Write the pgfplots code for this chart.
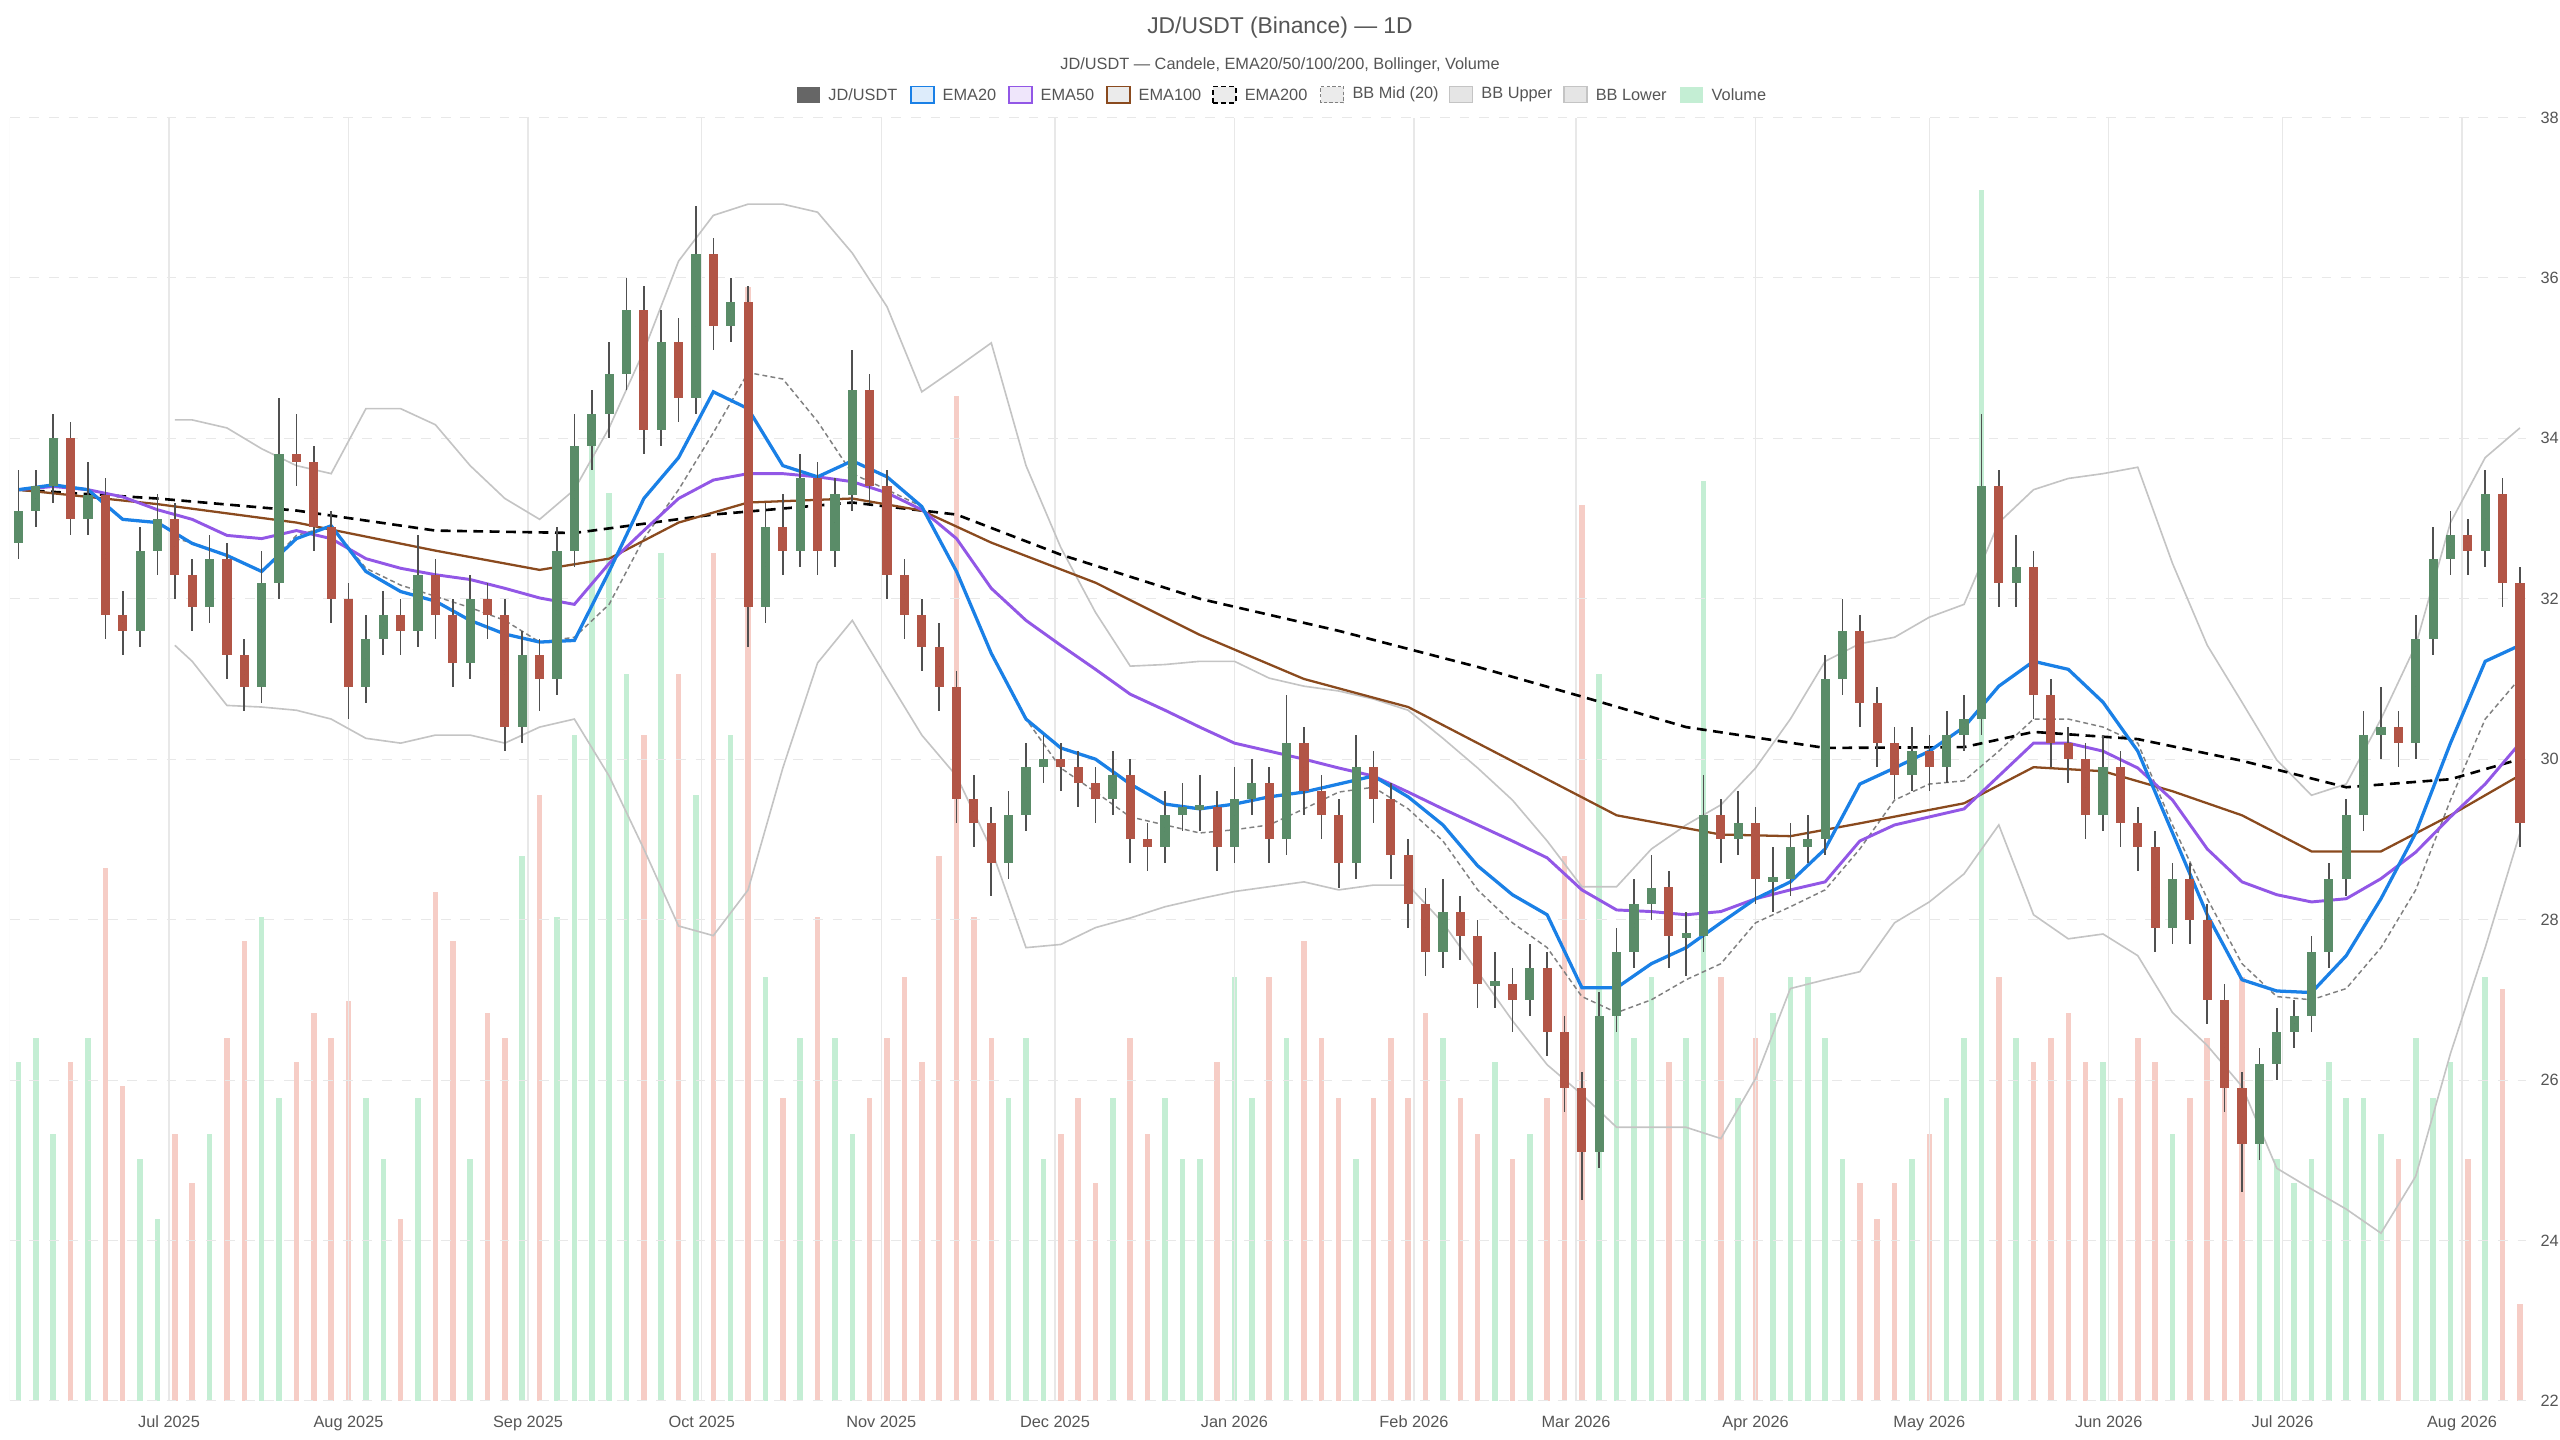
\documentclass[border=0pt]{standalone}
\usepackage{pgfplots}
\pgfplotsset{compat=1.18}
\usepackage{pgfplotstable}
\usepackage{fontspec}
\setmainfont{Liberation Sans}
\definecolor{upc}{HTML}{5A8C68}
\definecolor{dnc}{HTML}{B25546}
\definecolor{wick}{HTML}{505050}
\definecolor{vup}{HTML}{C4EED4}
\definecolor{vdn}{HTML}{F6CDC6}
\definecolor{e20}{HTML}{1A80E6}
\definecolor{e50}{HTML}{9257E6}
\definecolor{e100}{HTML}{8A4A1E}
\definecolor{bbc}{HTML}{C4C4C4}
\definecolor{txt}{HTML}{555555}
\definecolor{gridc}{HTML}{E8E8E8}

\pgfplotstableread{
d o h l c v
0 32.7 33.6 32.5 33.1 28
3 33.1 33.6 32.9 33.4 30
6 33.4 34.3 33.2 34.0 22
9 34.0 34.2 32.8 33.0 28
12 33.0 33.7 32.8 33.3 30
15 33.3 33.5 31.5 31.8 44
18 31.8 32.1 31.3 31.6 26
21 31.6 32.9 31.4 32.6 20
24 32.6 33.3 32.3 33.0 15
27 33.0 33.2 32.0 32.3 22
30 32.3 32.5 31.6 31.9 18
33 31.9 32.8 31.7 32.5 22
36 32.5 32.7 31.0 31.3 30
39 31.3 31.5 30.6 30.9 38
42 30.9 32.6 30.7 32.2 40
45 32.2 34.5 32.0 33.8 25
48 33.8 34.3 33.4 33.7 28
51 33.7 33.9 32.6 32.9 32
54 32.9 33.1 31.7 32.0 30
57 32.0 32.2 30.5 30.9 33
60 30.9 31.8 30.7 31.5 25
63 31.5 32.1 31.3 31.8 20
66 31.8 32.0 31.3 31.6 15
69 31.6 32.8 31.4 32.3 25
72 32.3 32.5 31.5 31.8 42
75 31.8 32.0 30.9 31.2 38
78 31.2 32.3 31.0 32.0 20
81 32.0 32.2 31.5 31.8 32
84 31.8 32.0 30.1 30.4 30
87 30.4 31.6 30.2 31.3 45
90 31.3 31.5 30.6 31.0 50
93 31.0 32.9 30.8 32.6 40
96 32.6 34.3 32.4 33.9 55
99 33.9 34.6 33.6 34.3 80
102 34.3 35.2 34.0 34.8 75
105 34.8 36.0 34.6 35.6 60
108 35.6 35.9 33.8 34.1 55
111 34.1 35.6 33.9 35.2 70
114 35.2 35.5 34.2 34.5 60
117 34.5 36.9 34.3 36.3 50
120 36.3 36.5 35.1 35.4 70
123 35.4 36.0 35.2 35.7 55
126 35.7 35.9 31.4 31.9 92
129 31.9 33.2 31.7 32.9 35
132 32.9 33.3 32.3 32.6 25
135 32.6 33.8 32.4 33.5 30
138 33.5 33.7 32.3 32.6 40
141 32.6 33.5 32.4 33.3 30
144 33.3 35.1 33.1 34.6 22
147 34.6 34.8 33.2 33.4 25
150 33.4 33.6 32.0 32.3 30
153 32.3 32.5 31.5 31.8 35
156 31.8 32.0 31.1 31.4 28
159 31.4 31.7 30.6 30.9 45
162 30.9 31.1 29.2 29.5 83
165 29.5 29.8 28.9 29.2 40
168 29.2 29.4 28.3 28.7 30
171 28.7 29.6 28.5 29.3 25
174 29.3 30.2 29.1 29.9 30
177 29.9 30.3 29.7 30.0 20
180 30.0 30.2 29.6 29.9 22
183 29.9 30.1 29.4 29.7 25
186 29.7 29.9 29.2 29.5 18
189 29.5 30.1 29.3 29.8 25
192 29.8 30.0 28.7 29.0 30
195 29.0 29.2 28.6 28.9 22
198 28.9 29.6 28.7 29.3 25
201 29.3 29.7 29.1 29.4 20
204 29.4 29.8 29.1 29.4 20
207 29.4 29.6 28.6 28.9 28
210 28.9 29.9 28.7 29.5 35
213 29.5 30.0 29.3 29.7 25
216 29.7 29.9 28.7 29.0 35
219 29.0 30.8 28.8 30.2 30
222 30.2 30.4 29.3 29.6 38
225 29.6 29.8 29.0 29.3 30
228 29.3 29.5 28.4 28.7 25
231 28.7 30.3 28.5 29.9 20
234 29.9 30.1 29.2 29.5 25
237 29.5 29.7 28.5 28.8 30
240 28.8 29.0 27.9 28.2 25
243 28.2 28.4 27.3 27.6 32
246 27.6 28.5 27.4 28.1 30
249 28.1 28.3 27.5 27.8 25
252 27.8 28.0 26.9 27.2 22
255 27.2 27.6 26.9 27.2 28
258 27.2 27.4 26.6 27.0 20
261 27.0 27.7 26.8 27.4 22
264 27.4 27.6 26.3 26.6 25
267 26.6 26.8 25.6 25.9 45
270 25.9 26.1 24.5 25.1 74
273 25.1 27.1 24.9 26.8 60
276 26.8 27.9 26.6 27.6 35
279 27.6 28.5 27.4 28.2 30
282 28.2 28.8 28.0 28.4 35
285 28.4 28.6 27.4 27.8 28
288 27.8 28.1 27.3 27.8 30
291 27.8 29.8 27.6 29.3 76
294 29.3 29.5 28.7 29.0 35
297 29.0 29.6 28.8 29.2 25
300 29.2 29.4 28.2 28.5 30
303 28.5 28.9 28.1 28.5 32
306 28.5 29.2 28.3 28.9 35
309 28.9 29.3 28.7 29.0 35
312 29.0 31.3 28.8 31.0 30
315 31.0 32.0 30.8 31.6 20
318 31.6 31.8 30.4 30.7 18
321 30.7 30.9 29.9 30.2 15
324 30.2 30.4 29.5 29.8 18
327 29.8 30.4 29.6 30.1 20
330 30.1 30.3 29.6 29.9 22
333 29.9 30.6 29.7 30.3 25
336 30.3 30.8 30.1 30.5 30
339 30.5 34.3 30.3 33.4 100
342 33.4 33.6 31.9 32.2 35
345 32.2 32.8 31.9 32.4 30
348 32.4 32.6 30.5 30.8 28
351 30.8 31.0 29.9 30.2 30
354 30.2 30.4 29.7 30.0 32
357 30.0 30.2 29.0 29.3 28
360 29.3 30.3 29.1 29.9 28
363 29.9 30.1 28.9 29.2 25
366 29.2 29.4 28.6 28.9 30
369 28.9 29.1 27.6 27.9 28
372 27.9 28.7 27.7 28.5 22
375 28.5 28.7 27.7 28.0 25
378 28.0 28.2 26.7 27.0 30
381 27.0 27.2 25.6 25.9 30
384 25.9 26.1 24.6 25.2 35
387 25.2 26.4 25.0 26.2 25
390 26.2 26.9 26.0 26.6 20
393 26.6 27.0 26.4 26.8 18
396 26.8 27.8 26.6 27.6 20
399 27.6 28.7 27.4 28.5 28
402 28.5 29.5 28.3 29.3 25
405 29.3 30.6 29.1 30.3 25
408 30.3 30.9 30.0 30.4 22
411 30.4 30.6 29.9 30.2 20
414 30.2 31.8 30.0 31.5 30
417 31.5 32.9 31.3 32.5 25
420 32.5 33.1 32.3 32.8 28
423 32.8 33.0 32.3 32.6 20
426 32.6 33.6 32.4 33.3 35
429 33.3 33.5 31.9 32.2 34
432 32.2 32.4 28.9 29.2 8
}\candles

\pgfplotstableread{
d p
0 33.36
24 33.25
48 33.10
72 32.85
96 32.82
120 33.05
144 33.20
162 33.05
180 32.55
204 32.00
228 31.60
252 31.15
270 30.78
288 30.40
312 30.14
336 30.15
348 30.34
366 30.25
384 29.98
402 29.65
420 29.75
432 30.00
}\emaTwoHundred

\pgfplotstableread{
d p
0 33.36
24 33.18
48 32.95
72 32.60
90 32.36
102 32.50
114 32.95
126 33.20
144 33.25
156 33.10
168 32.70
186 32.20
204 31.55
222 31.00
240 30.65
252 30.20
264 29.75
276 29.30
294 29.06
306 29.04
318 29.20
336 29.45
348 29.90
360 29.85
372 29.60
384 29.30
396 28.85
408 28.85
420 29.30
432 29.80
}\emaHundred

\pgfplotstableread{
d a b
0 33.36 33.36
6 33.40 33.42
12 33.36 33.36
18 33.27 32.99
24 33.11 32.95
30 32.99 32.69
36 32.79 32.54
42 32.75 32.34
48 32.85 32.75
54 32.75 32.91
60 32.50 32.34
66 32.38 32.09
72 32.30 31.97
78 32.24 31.73
84 32.13 31.56
90 32.01 31.46
96 31.93 31.48
102 32.44 32.34
108 32.85 33.25
114 33.25 33.76
120 33.48 34.58
126 33.56 34.37
132 33.56 33.66
138 33.52 33.52
144 33.46 33.72
150 33.32 33.52
156 33.11 33.15
162 32.75 32.34
168 32.13 31.32
174 31.73 30.50
180 31.42 30.14
186 31.12 30.00
192 30.81 29.69
198 30.61 29.44
204 30.40 29.38
210 30.20 29.44
216 30.10 29.53
222 30.00 29.59
228 29.89 29.69
234 29.79 29.79
240 29.59 29.53
246 29.38 29.18
252 29.18 28.67
258 28.98 28.31
264 28.77 28.06
270 28.37 27.15
276 28.12 27.15
282 28.10 27.45
288 28.06 27.65
294 28.10 27.96
300 28.26 28.26
306 28.37 28.47
312 28.47 28.88
318 28.98 29.69
324 29.18 29.89
330 29.28 30.10
336 29.38 30.40
342 29.79 30.91
348 30.20 31.22
354 30.20 31.12
360 30.10 30.71
366 29.89 30.10
372 29.49 29.08
378 28.88 28.06
384 28.47 27.25
390 28.31 27.11
396 28.22 27.09
402 28.26 27.55
408 28.51 28.26
414 28.84 29.08
420 29.28 30.20
426 29.69 31.22
432 30.20 31.42
}\emaFast

\pgfplotstableread{
d u l m
27 34.23 31.42 32.75
30 34.23 31.22 32.70
36 34.13 30.67 32.54
42 33.87 30.65 32.34
48 33.66 30.61 32.79
54 33.56 30.50 32.91
60 34.37 30.26 32.38
66 34.37 30.20 32.17
72 34.17 30.30 32.03
78 33.66 30.30 31.89
84 33.25 30.20 31.73
90 32.99 30.40 31.46
96 33.36 30.50 31.52
102 34.13 29.79 31.93
108 35.09 28.88 32.75
114 36.21 27.92 33.36
120 36.78 27.80 34.07
126 36.92 28.37 34.82
132 36.92 29.89 34.74
138 36.82 31.20 34.21
144 36.31 31.73 33.56
150 35.64 31.01 33.36
156 34.58 30.30 33.15
162 34.88 29.79 32.34
168 35.19 28.88 31.32
174 33.66 27.65 30.50
180 32.64 27.69 29.89
186 31.83 27.90 29.59
192 31.16 28.02 29.28
198 31.18 28.16 29.18
204 31.22 28.26 29.08
210 31.22 28.35 29.12
216 31.01 28.41 29.18
222 30.91 28.47 29.38
228 30.85 28.37 29.59
234 30.75 28.43 29.65
240 30.61 28.43 29.38
246 30.26 27.96 28.98
252 29.89 27.35 28.37
258 29.49 26.74 27.96
264 28.98 26.19 27.65
270 28.41 25.82 27.04
276 28.41 25.41 26.84
282 28.88 25.41 27.00
288 29.18 25.41 27.25
294 29.43 25.27 27.45
300 29.89 26.02 27.96
306 30.50 27.14 28.16
312 31.22 27.25 28.37
318 31.44 27.35 28.88
324 31.52 27.96 29.49
330 31.77 28.22 29.69
336 31.93 28.57 29.73
342 32.95 29.18 30.10
348 33.36 28.06 30.50
354 33.50 27.76 30.50
360 33.56 27.82 30.40
366 33.64 27.55 30.20
372 32.44 26.84 29.18
378 31.42 26.43 28.26
384 30.71 25.92 27.45
390 29.99 24.90 27.04
396 29.55 24.64 27.00
402 29.69 24.39 27.14
408 30.50 24.09 27.65
414 31.42 24.80 28.37
420 32.95 26.33 29.49
426 33.76 27.65 30.50
432 34.13 29.08 31.01
}\bb

\begin{document}
\begin{tikzpicture}[font=\fontsize{5}{6}\selectfont]
\useasboundingbox (0,0) rectangle (784pt,441pt);
\pgfplotsset{base/.style={at={(3pt,12pt)}, anchor=south west, scale only axis,
  width=770.5pt, height=393pt, xmin=-1.5, xmax=433},
  nomark/.style={only marks, mark=*, mark size=0pt, mark options={draw=none, fill=none}}}
% volume
\begin{axis}[base, ymin=0, ymax=106, hide axis, unbounded coords=discard, filter discard warning=false]
\addplot[ycomb, vup, line width=1.7pt, mark=none] table[x=d, y expr={\thisrow{c}>=\thisrow{o} ? \thisrow{v} : nan}] {\candles};
\addplot[ycomb, vdn, line width=1.7pt, mark=none] table[x=d, y expr={\thisrow{c}<\thisrow{o} ? \thisrow{v} : nan}] {\candles};
\end{axis}
% price
\begin{axis}[base, ymin=22, ymax=38, ytick={22,24,...,38}, yticklabel pos=right,
  xtick={26,57,88,118,149,179,210,241,269,300,330,361,391,422},
  xticklabels={Jul 2025,Aug 2025,Sep 2025,Oct 2025,Nov 2025,Dec 2025,Jan 2026,Feb 2026,Mar 2026,Apr 2026,May 2026,Jun 2026,Jul 2026,Aug 2026},
  axis line style={draw=none}, major tick length=0pt,
  xmajorgrids, ymajorgrids,
  x grid style={gridc, line width=0.4pt},
  y grid style={gridc, dashed, line width=0.3pt},
  ticklabel style={text=txt, font=\fontsize{5}{6}\selectfont},
  /pgf/number format/assume math mode=true,
  xticklabel style={yshift=-1pt}, yticklabel style={xshift=1pt},
  unbounded coords=discard, filter discard warning=false, clip=true]
\draw[gridc, line width=0.4pt] (axis cs:-1.5,22) -- (axis cs:-1.5,38);
% bollinger
\addplot[bbc, line width=0.5pt, mark=none] table[x=d, y=u] {\bb};
\addplot[bbc, line width=0.5pt, mark=none] table[x=d, y=l] {\bb};
\addplot[gray, line width=0.45pt, mark=none, dash pattern=on 1.5pt off 1pt] table[x=d, y=m] {\bb};
% EMAs
\addplot[black, line width=0.8pt, dash pattern=on 3pt off 2pt, mark=none] table[x=d, y=p] {\emaTwoHundred};
\addplot[e100, line width=0.7pt, mark=none] table[x=d, y=p] {\emaHundred};
\addplot[e50, line width=0.9pt, mark=none] table[x=d, y=a] {\emaFast};
\addplot[e20, line width=1.0pt, mark=none] table[x=d, y=b] {\emaFast};
% wicks
\addplot[nomark, error bars/.cd, y dir=both, y explicit, error mark=none,
  error bar style={wick, line width=0.5pt}]
  table[x=d, y expr={(\thisrow{h}+\thisrow{l})/2}, y error expr={(\thisrow{h}-\thisrow{l})/2}] {\candles};
% bodies
\addplot[nomark, error bars/.cd, y dir=both, y explicit, error mark=none,
  error bar style={upc, line width=2.8pt}]
  table[x=d, y expr={\thisrow{c}>=\thisrow{o} ? (\thisrow{o}+\thisrow{c})/2 : nan}, y error expr={max(abs(\thisrow{c}-\thisrow{o})/2,0.03)}] {\candles};
\addplot[nomark, error bars/.cd, y dir=both, y explicit, error mark=none,
  error bar style={dnc, line width=2.8pt}]
  table[x=d, y expr={\thisrow{c}<\thisrow{o} ? (\thisrow{o}+\thisrow{c})/2 : nan}, y error expr={max(abs(\thisrow{c}-\thisrow{o})/2,0.03)}] {\candles};
\end{axis}
% titles
\node[text=txt, font=\fontsize{7}{8}\selectfont] at (392pt,432.5pt) {JD/USDT (Binance) — 1D};
\node[text=txt] at (392pt,421pt) {JD/USDT — Candele, EMA20/50/100/200, Bollinger, Volume};
% legend
\begin{scope}[every node/.style={text=txt, anchor=west, inner sep=0pt}]
\def\ly{412pt}
\fill[black!60] (244pt,409.5pt) rectangle (251pt,414.5pt); \node at (253.5pt,\ly) {JD/USDT};
\filldraw[fill=e20!15, draw=e20, line width=0.6pt] (279pt,409.5pt) rectangle (286pt,414.5pt); \node at (288.5pt,\ly) {EMA20};
\filldraw[fill=e50!15, draw=e50, line width=0.6pt] (309pt,409.5pt) rectangle (316pt,414.5pt); \node at (318.5pt,\ly) {EMA50};
\filldraw[fill=black!8, draw=e100, line width=0.6pt] (339pt,409.5pt) rectangle (346pt,414.5pt); \node at (348.5pt,\ly) {EMA100};
\filldraw[fill=black!8, draw=black, line width=0.6pt, dash pattern=on 1.5pt off 1pt] (371.5pt,409.5pt) rectangle (378.5pt,414.5pt); \node at (381pt,\ly) {EMA200};
\filldraw[fill=black!8, draw=gray, line width=0.4pt, dash pattern=on 1pt off 0.7pt] (404.5pt,409.5pt) rectangle (411.5pt,414.5pt); \node at (414pt,\ly) {BB Mid (20)};
\filldraw[fill=black!10, draw=bbc, line width=0.4pt] (444pt,409.5pt) rectangle (451pt,414.5pt); \node at (453.5pt,\ly) {BB Upper};
\filldraw[fill=black!10, draw=bbc, line width=0.4pt] (479pt,409.5pt) rectangle (486pt,414.5pt); \node at (488.5pt,\ly) {BB Lower};
\fill[vup] (514.5pt,409.5pt) rectangle (521.5pt,414.5pt); \node at (524pt,\ly) {Volume};
\end{scope}
\end{tikzpicture}
\end{document}
